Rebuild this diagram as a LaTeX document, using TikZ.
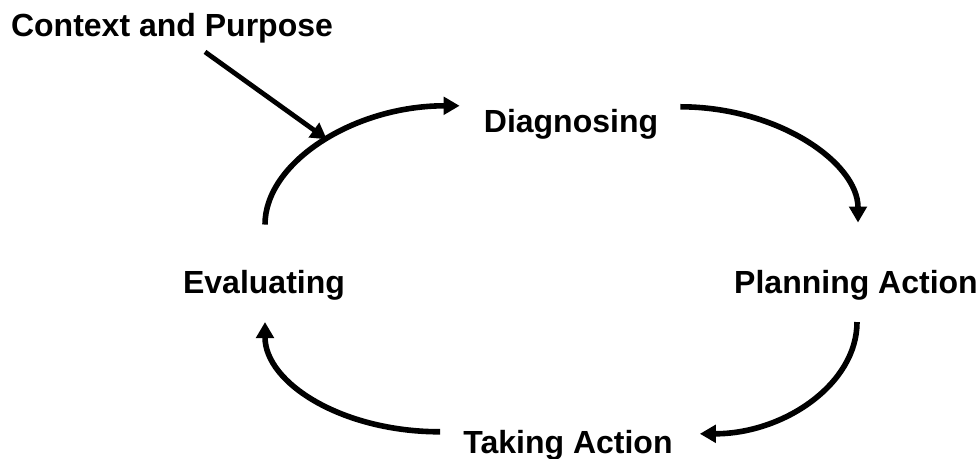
\documentclass[tikz,border=0pt]{standalone}
\usepackage{fontspec}
\setmainfont{Liberation Sans}
\usepackage{xcolor}
\usetikzlibrary{calc,arrows.meta}
\definecolor{ink}{HTML}{000000}
\tikzset{
  stageLbl/.style={text=ink, font=\fontsize{24}{28}\selectfont\bfseries, inner sep=0pt, anchor=base},
  cycArrow/.style={draw=ink, line width=4.2pt, -{Triangle[length=12pt,width=13pt]}},
  inArrow/.style={draw=ink, line width=3.6pt, -{Triangle[length=12pt,width=13pt]}},
}

\begin{document}
\begin{tikzpicture}[x=0.75pt, y=-0.75pt]
  \useasboundingbox (0,0) rectangle (980,459);

  \node[stageLbl] (ctx)  at (172,37)  {Context and Purpose};
  \node[stageLbl] (diag) at (571,133) {Diagnosing};
  \node[stageLbl] (plan) at (856,293) {Planning Action};
  \node[stageLbl] (take) at (568,453) {Taking Action};
  \node[stageLbl] (eval) at (264,293) {Evaluating};

  % Cycle arcs
  \draw[cycArrow] ($(eval.north)+(1,-45)$) .. controls +(0,-62) and +(-106,0) ..
    coordinate[pos=0.52] (hit) ($(diag.west)+(-24,-19)$);
  \draw[cycArrow] ($(diag.east)+(22,-18)$) .. controls +(97,0) and +(0,-60) .. ($(plan.north)+(2,-47)$);
  \draw[cycArrow] ($(plan.south)+(1,22)$) .. controls +(0,62) and +(84,0) .. ($(take.east)+(27,-11)$);
  \draw[cycArrow] ($(take.west)+(-23,-13)$) .. controls +(-98,0) and +(0,61) .. ($(eval.south)+(1,22)$);

  % Entry arrow
  \draw[inArrow] ($(ctx.south)+(33,8)$) -- (hit);
\end{tikzpicture}
\end{document}
